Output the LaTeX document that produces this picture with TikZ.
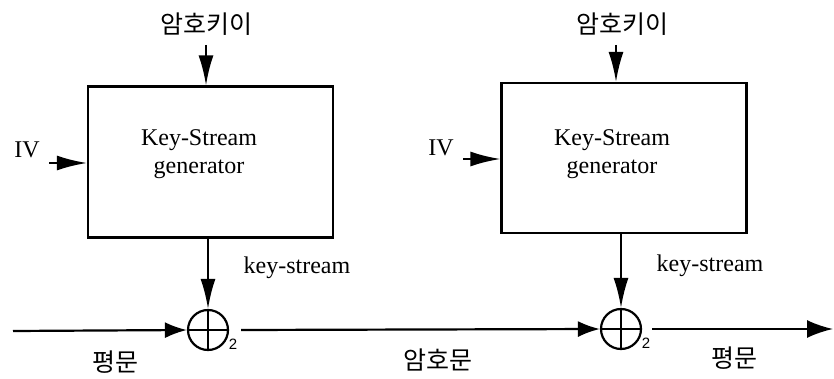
\documentclass[tikz,border=0pt]{standalone}
\usepackage{fontspec}
\setmainfont{Liberation Serif}
\newfontfamily\kor{Noto Sans CJK KR}
\newfontfamily\hel{Liberation Sans}
\usetikzlibrary{arrows.meta}
\begin{document}
\begin{tikzpicture}[x=1pt,y=-1pt,
  line width=2.2pt,
  arr/.style={-{Latex[length=30pt,width=15pt]}},
  harr/.style={-{Latex[length=22pt,width=16pt]}},
  genbox/.style={draw,rectangle,minimum width=245pt,minimum height=151pt,inner sep=0pt},
  gtxt/.style={align=center,inner sep=0pt,font=\fontsize{24}{28}\selectfont},
  xorc/.style={draw,circle,minimum size=40pt,inner sep=0pt},
  lbl/.style={font=\fontsize{24}{28}\selectfont,inner sep=0pt},
  klbl/.style={font=\kor\fontsize{25}{28}\selectfont,inner sep=0pt},
  sub/.style={font=\hel\fontsize{15}{17}\selectfont,inner sep=0pt}]
\useasboundingbox (0,0) rectangle (834,379);
% boxes
\node[genbox] (b1) at (210.5,162) {};
\node[genbox,minimum height=150pt] (b2) at (624,158) {};
\node[gtxt] (t1) at (199,154) {Key-Stream\\generator};
\node[gtxt] (t2) at (612,154) {Key-Stream\\generator};
% xor circles
\node[xorc] (c1) at (208,330) {};
\node[xorc] (c2) at (621,329) {};
\draw[line width=1.8pt] (c1.north) -- (c1.south) (c1.west) -- (c1.east);
\draw[line width=1.8pt] (c2.north) -- (c2.south) (c2.west) -- (c2.east);
\node[sub] (s1) at (233,344) {2};
\node[sub] (s2) at (646,343) {2};
% key labels
\node[klbl] (k1) at (206,24) {암호키이};
\node[klbl] (k2) at (622,24) {암호키이};
\coordinate (k1e) at (206,45);
\coordinate (k2e) at (616,45);
\draw[arr] (k1e) -- (k1e |- b1.north);
\draw[arr] (k2e) -- (k2e |- b2.north);
% IV
\node[lbl] (iv1) at (27,150) {IV};
\node[lbl] (iv2) at (441,148) {IV};
\coordinate (iv1s) at (49,163);
\coordinate (iv2s) at (463,159);
\draw[arr] (iv1s) -- (iv1s -| b1.west);
\draw[arr] (iv2s) -- (iv2s -| b2.west);
% key-stream
\draw[arr] (c1 |- b1.south) -- (c1.north);
\draw[arr] (c2 |- b2.south) -- (c2.north);
\node[lbl] (ks1) at (297,268) {key-stream};
\node[lbl] (ks2) at (710,266) {key-stream};
% main line
\coordinate (in) at (13,331);
\coordinate (out) at (833,329);
\draw[harr] (in) -- (c1.west);
\draw[harr] ([xshift=12pt]c1.east) -- (c2.west);
\draw[-{Latex[length=26pt,width=18pt]}] ([xshift=10pt]c2.east) -- (out);
% bottom labels
\node[klbl] (p1) at (115,362) {평문};
\node[klbl] (cx) at (438,360) {암호문};
\node[klbl] (p2) at (734,358) {평문};
\end{tikzpicture}
\end{document}
